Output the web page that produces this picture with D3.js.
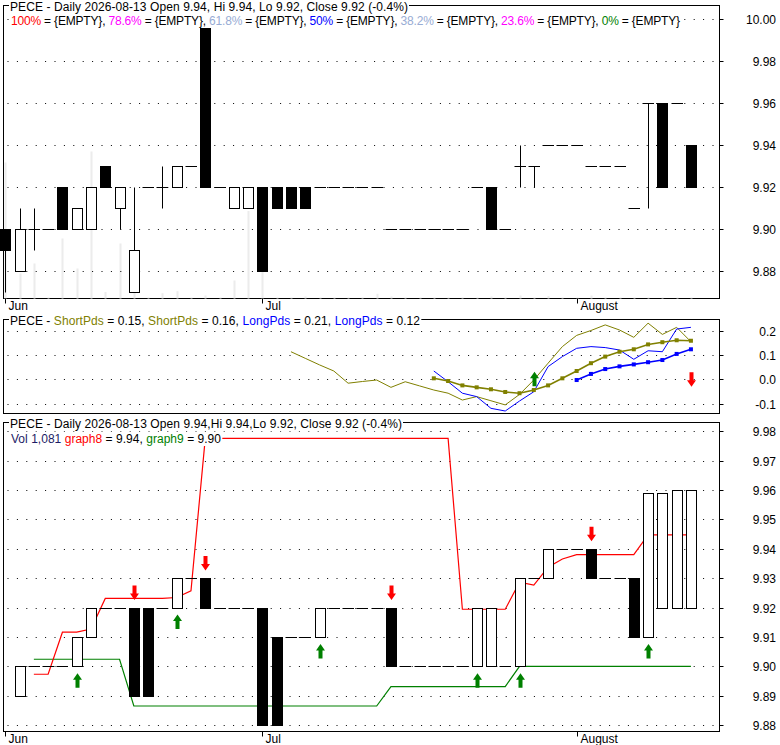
<!DOCTYPE html>
<html><head><meta charset="utf-8">
<script src="https://cdn.jsdelivr.net/npm/d3@7"></script>
<style>
body{margin:0;background:#fff}
svg{display:block}
text{font-family:"Liberation Sans",Arial,sans-serif;font-size:12px;white-space:pre}
</style>
</head><body>
<svg id="c" width="780" height="745"></svg>
<script>
// ---------------- DATA ----------------
const ticker = "PECE";
const lastDate = "2026-08-13";
const monthTickIdx = [0, 18, 40];
const monthLabels = ["Jun", "Jul", "August"];

// upper price panel (daily OHLC)
const topOpen  = [9.90,9.88,9.90,9.90,9.92,9.90,9.90,9.93,9.91,9.87,9.92,9.92,9.92,9.93,9.996,9.92,9.91,9.91,9.92,9.92,9.92,9.92,9.92,9.92,9.92,9.92,9.92,9.90,9.90,9.90,9.90,9.90,9.90,9.92,9.92,9.90,9.93,9.93,9.94,9.94,9.94,9.93,9.93,9.93,9.91,9.96,9.96,9.96,9.94];
const topHigh  = [9.90,9.91,9.91,9.90,9.92,9.91,9.92,9.93,9.92,9.92,9.92,9.93,9.93,9.93,9.996,9.92,9.92,9.92,9.92,9.92,9.92,9.92,9.92,9.92,9.92,9.92,9.92,9.90,9.90,9.90,9.90,9.90,9.90,9.92,9.92,9.90,9.94,9.93,9.94,9.94,9.94,9.93,9.93,9.93,9.91,9.96,9.96,9.96,9.94];
const topLow   = [9.87,9.88,9.89,9.90,9.90,9.90,9.90,9.92,9.90,9.87,9.92,9.91,9.92,9.93,9.92,9.92,9.91,9.91,9.88,9.91,9.91,9.91,9.92,9.92,9.92,9.92,9.92,9.90,9.90,9.90,9.90,9.90,9.90,9.92,9.90,9.90,9.92,9.92,9.94,9.94,9.94,9.93,9.93,9.93,9.91,9.91,9.92,9.96,9.92];
const topClose = [9.89,9.90,9.90,9.90,9.90,9.91,9.92,9.92,9.92,9.89,9.92,9.92,9.93,9.93,9.92,9.92,9.92,9.92,9.88,9.91,9.91,9.91,9.92,9.92,9.92,9.92,9.92,9.90,9.90,9.90,9.90,9.90,9.90,9.92,9.90,9.90,9.93,9.93,9.94,9.94,9.94,9.93,9.93,9.93,9.91,9.96,9.92,9.96,9.92];
const volume   = [136000,25000,35000,1000,60000,30000,147000,6500,55000,20000,1000,5300,7300,1000,3000,1000,18000,87500,30000,1000,1000,2000,1000,1000,1000,1000,4700,2000,1000,1000,1000,1000,1000,1000,2000,1000,3000,1000,2500,1000,1000,3000,1000,1000,1000,1000,1000,1000,1081];
const topTicks = [9.88, 9.90, 9.92, 9.94, 9.96, 9.98, 10.00];
const fibLevels = ["100%", "78.6%", "61.8%", "50%", "38.2%", "23.6%", "0%"];

// middle indicator panel
const shortPdsA = [null,null,null,null,null,null,null,null,null,null,null,null,null,null,null,null,null,null,null,null,
  0.113,0.086,0.059,0.034,-0.016,-0.009,-0.003,-0.033,-0.010,-0.027,-0.044,-0.057,-0.085,-0.071,-0.088,-0.105,-0.062,-0.003,0.066,0.134,0.180,0.200,0.223,0.202,0.172,0.230,0.184,0.213,0.154];
const shortPdsB = [null,null,null,null,null,null,null,null,null,null,null,null,null,null,null,null,null,null,null,null,null,null,null,null,null,null,null,null,null,null,
  0.004,-0.007,-0.025,-0.033,-0.041,-0.052,-0.057,-0.044,-0.025,0.004,0.034,0.066,0.093,0.113,0.123,0.143,0.152,0.160,0.158];
const longPdsA = [null,null,null,null,null,null,null,null,null,null,null,null,null,null,null,null,null,null,null,null,null,null,null,null,null,null,null,null,null,null,
  0.034,-0.010,-0.057,-0.071,-0.119,-0.130,-0.089,-0.051,0.052,0.093,0.127,0.134,0.130,0.120,0.082,0.117,0.113,0.206,0.213];
const longPdsB = [null,null,null,null,null,null,null,null,null,null,null,null,null,null,null,null,null,null,null,null,null,null,null,null,null,null,null,null,null,null,null,null,null,null,null,null,null,null,null,null,
  -0.003,0.022,0.042,0.053,0.061,0.070,0.079,0.104,0.123];
const midTicks = [-0.1, 0.0, 0.1, 0.2];
const midUpIdx = [37];
const midDownIdx = [48];

// lower panel
const lowOpen  = [null,9.89,9.90,9.90,9.90,9.90,9.91,9.92,9.92,9.92,9.92,9.92,9.92,9.93,9.93,9.92,9.92,9.92,9.92,9.91,9.91,9.91,9.91,9.92,9.92,9.92,9.92,9.92,9.90,9.90,9.90,9.90,9.90,9.90,9.90,9.90,9.90,9.93,9.93,9.94,9.94,9.94,9.93,9.93,9.93,9.91,9.92,9.92,9.92];
const lowClose = [null,9.90,9.90,9.90,9.90,9.91,9.92,9.92,9.92,9.89,9.89,9.92,9.93,9.93,9.92,9.92,9.92,9.92,9.88,9.88,9.91,9.91,9.92,9.92,9.92,9.92,9.92,9.90,9.90,9.90,9.90,9.90,9.90,9.92,9.92,9.90,9.93,9.93,9.94,9.94,9.94,9.93,9.93,9.93,9.91,9.959,9.959,9.96,9.96];
const graph8 = [null,null,9.8973,9.8973,9.9116,9.9116,9.9127,9.9231,9.9231,9.9231,9.9231,9.9231,9.9234,9.9257,
  9.9775,9.9775,9.9775,9.9775,9.9775,9.9775,9.9775,9.9775,9.9775,9.9775,9.9775,9.9775,9.9775,9.9775,9.9775,9.9775,9.9775,9.9775,
  9.9194,9.9194,9.9194,9.9194,9.9286,9.9276,9.9337,9.9365,9.9380,9.9380,9.9380,9.9380,9.9380,9.9447,9.9447,9.9447,9.9447];
const graph9 = [null,null,9.9024,9.9024,9.9024,9.9024,9.9024,9.9024,9.9024,
  9.8865,9.8865,9.8865,9.8865,9.8865,9.8865,9.8865,9.8865,9.8865,9.8865,9.8865,9.8865,9.8865,9.8865,9.8865,9.8865,9.8865,9.8865,
  9.8931,9.8931,9.8931,9.8931,9.8931,9.8931,9.8931,9.8931,9.8931,
  9.90,9.90,9.90,9.90,9.90,9.90,9.90,9.90,9.90,9.90,9.90,9.90,9.90];
const lowUpIdx = [5, 12, 22, 33, 36, 45];
const lowDownIdx = [9, 14, 27, 41];
const lowTicks = [9.88, 9.89, 9.90, 9.91, 9.92, 9.93, 9.94, 9.95, 9.96, 9.97, 9.98];

// ---------------- STYLE ----------------
const C = {
  red: "#ff0000", green: "#008000", magenta: "#ff00ff", blue: "#0000ff",
  steel: "#98acd4", olive: "#808000", vol: "#ececec", navy: "#1c1c66"
};
const fibColors = [C.red, C.magenta, C.steel, C.blue, C.steel, C.magenta, C.green];

// ---------------- LAYOUT ----------------
const L = 3.5, R = 719.5;
const P = {
  top: {y0: 5.5, y1: 298.5},
  mid: {y0: 319.5, y1: 413.5},
  bot: {y0: 422.5, y1: 731.5}
};
const svg = d3.select("#c");
const loc = d3.formatLocale({decimal: ".", thousands: ",", grouping: [3], currency: ["", ""], minus: "-"});
const f2 = loc.format(".2f"), f1 = loc.format(".1f"), fInt = loc.format(",d");

const x = d3.scaleLinear().domain([-0.125, 50]).range([L, R]);
const yTop = d3.scaleLinear().domain([9.86705, 10.00657]).range([P.top.y1, P.top.y0]);
const yMid = d3.scaleLinear().domain([-0.1402, 0.2451]).range([P.mid.y1, P.mid.y0]);
const yBot = d3.scaleLinear().domain([9.87782, 9.98293]).range([P.bot.y1, P.bot.y0]);
const yVol = d3.scaleLinear().domain([0, 150000]).range([P.top.y1, P.top.y1 - 150]);

const px = v => Math.round(v) + 0.5;

function frame(p) {
  svg.append("rect").attr("x", L).attr("y", p.y0).attr("width", R - L).attr("height", p.y1 - p.y0)
    .attr("fill", "none").attr("stroke", "#000");
}
function grid(g, ys, ticks, fmt) {
  ticks.forEach(t => {
    const yy = px(ys(t));
    g.append("line").attr("x1", L + 4).attr("x2", R - 2).attr("y1", yy).attr("y2", yy)
      .attr("stroke", "#000").attr("stroke-dasharray", "1,8.4");
    g.append("line").attr("x1", R).attr("x2", R + 4).attr("y1", yy).attr("y2", yy).attr("stroke", "#000");
    g.append("text").attr("x", 776).attr("y", yy + 4.5).attr("text-anchor", "end").attr("fill", "#000").text(fmt(t));
  });
}
function monthAxis(g, yb) {
  monthTickIdx.forEach((idx, k) => {
    const xx = px(x(idx));
    g.append("line").attr("x1", xx).attr("x2", xx).attr("y1", yb).attr("y2", yb + 5).attr("stroke", "#000");
    g.append("text").attr("x", xx + 3).attr("y", yb + 11.5).attr("fill", "#000").text(monthLabels[k]);
  });
}
function candles(g, ys, O, H, Lo, Cl) {
  O.forEach((o, i) => {
    if (o == null) return;
    const c = Cl[i];
    const h = H ? H[i] : Math.max(o, c), l = Lo ? Lo[i] : Math.min(o, c);
    const cx = px(x(i));
    if (Math.round(ys(h)) !== Math.round(ys(l))) {
      g.append("line").attr("x1", cx).attr("x2", cx).attr("y1", px(ys(h))).attr("y2", px(ys(l))).attr("stroke", "#000");
    }
    const yo = Math.round(ys(o)), yc = Math.round(ys(c));
    if (yo === yc) {
      g.append("line").attr("x1", cx - 6).attr("x2", cx + 5.5).attr("y1", yo + 0.5).attr("y2", yo + 0.5).attr("stroke", "#000");
    } else if (c > o) {
      g.append("rect").attr("x", cx - 5).attr("y", yc + 0.5).attr("width", 10).attr("height", yo - yc)
        .attr("fill", "#fff").attr("stroke", "#000");
    } else {
      g.append("rect").attr("x", cx - 5.5).attr("y", yo).attr("width", 11).attr("height", yc - yo + 1).attr("fill", "#000");
    }
  });
}
function arrow(g, cx, tip, dir, col) {
  const pts = [[0, 0], [4.5, 6.5], [2, 6.5], [2, 14.5], [-2, 14.5], [-2, 6.5], [-4.5, 6.5]];
  g.append("path").attr("d", "M" + pts.map(p => [cx + p[0], tip + dir * p[1]].join(",")).join("L") + "Z")
    .attr("fill", col);
}
function label(g, xx, yb, parts, len) {
  const t = g.append("text").attr("x", xx).attr("y", yb);
  parts.forEach(([s, col]) => t.append("tspan").attr("fill", col).text(s));
  if (len) t.attr("textLength", len).attr("lengthAdjust", "spacing");
  const bb = t.node().getBBox();
  g.insert("rect", () => t.node()).attr("x", bb.x - 1).attr("y", bb.y).attr("width", bb.width + 2)
    .attr("height", bb.height).attr("fill", "#fff");
}

// ---------------- TOP PANEL ----------------
frame(P.top);
const gTop = svg.append("g");
volume.forEach((v, i) => {
  gTop.append("rect").attr("x", Math.round(x(i)) - 0.5).attr("y", yVol(v)).attr("width", 2)
    .attr("height", P.top.y1 - yVol(v)).attr("fill", C.vol);
});
grid(gTop, yTop, topTicks, f2);
candles(gTop, yTop, topOpen, topHigh, topLow, topClose);
monthAxis(gTop, P.top.y1);

const n = topClose.length;
const lastO = topOpen[n - 1], lastH = topHigh[n - 1], lastL = topLow[n - 1], lastC = topClose[n - 1];
const pct = loc.format(".1f")((lastC / topClose[n - 2] - 1) * 100);
label(gTop, 10, P.top.y0 + 5, [[`${ticker} - Daily ${lastDate} Open ${f2(lastO)}, Hi ${f2(lastH)}, Lo ${f2(lastL)}, Close ${f2(lastC)} (${pct}%)`, "#000"]], 398);
const fibParts = [];
fibLevels.forEach((lv, k) => {
  fibParts.push([lv, fibColors[k]]);
  fibParts.push([" = {EMPTY}" + (k < fibLevels.length - 1 ? ", " : ""), "#000"]);
});
label(gTop, 11, P.top.y0 + 19.5, fibParts, 669);

// ---------------- MIDDLE PANEL ----------------
frame(P.mid);
const gMid = svg.append("g");
grid(gMid, yMid, midTicks, f1);
const line = d3.line().defined(d => d != null).x((d, i) => x(i)).y(d => yMid(d));
function series(arr, col, w, markers) {
  gMid.append("path").attr("d", line(arr)).attr("fill", "none").attr("stroke", col).attr("stroke-width", w);
  if (markers) arr.forEach((d, i) => {
    if (d == null) return;
    gMid.append("rect").attr("x", x(i) - 2).attr("y", yMid(d) - 2).attr("width", 4).attr("height", 4).attr("fill", col);
  });
}
series(shortPdsA, C.olive, 1, false);
series(longPdsA, C.blue, 1, false);
series(shortPdsB, C.olive, 1.6, true);
series(longPdsB, C.blue, 1.6, true);
midUpIdx.forEach(i => arrow(gMid, px(x(i)), yMid(0) - 7.5, 1, C.green));
midDownIdx.forEach(i => arrow(gMid, px(x(i)), yMid(0) + 7.5, -1, C.red));
label(gMid, 10, P.mid.y0 + 5.5, [
  [`${ticker} - `, "#000"], ["ShortPds", C.olive], [` = ${f2(shortPdsA[n - 1])}, `, "#000"],
  ["ShortPds", C.olive], [` = ${f2(shortPdsB[n - 1])}, `, "#000"],
  ["LongPds", C.blue], [` = ${f2(longPdsA[n - 1])}, `, "#000"],
  ["LongPds", C.blue], [` = ${f2(longPdsB[n - 1])}`, "#000"]
], 410);

// ---------------- BOTTOM PANEL ----------------
frame(P.bot);
const gBot = svg.append("g");
grid(gBot, yBot, lowTicks, f2);
const lineB = d3.line().defined(d => d != null).x((d, i) => x(i)).y(d => yBot(d));
gBot.append("path").attr("d", lineB(graph9)).attr("fill", "none").attr("stroke", C.green).attr("stroke-width", 1.2);
gBot.append("path").attr("d", lineB(graph8)).attr("fill", "none").attr("stroke", C.red).attr("stroke-width", 1.2);
candles(gBot, yBot, lowOpen, null, null, lowClose);
lowUpIdx.forEach(i => arrow(gBot, px(x(i)), yBot(Math.min(lowOpen[i], lowClose[i])) + 7, 1, C.green));
lowDownIdx.forEach(i => arrow(gBot, px(x(i)), yBot(Math.max(lowOpen[i], lowClose[i])) - 7.5, -1, C.red));
monthAxis(gBot, P.bot.y1);
label(gBot, 10, P.bot.y0 + 5.8, [[`${ticker} - Daily ${lastDate} Open ${f2(lastO)},Hi ${f2(lastH)},Lo ${f2(lastL)}, Close ${f2(lastC)} (${pct}%)`, "#000"]], 392);
label(gBot, 11, P.bot.y0 + 20.5, [
  [`Vol ${fInt(volume[n - 1])} `, C.navy], ["graph8", C.red], [` = ${f2(graph8[n - 1])}, `, "#000"],
  ["graph9", C.green], [` = ${f2(graph9[n - 1])}`, "#000"]
], 210);
</script>
</body></html>
